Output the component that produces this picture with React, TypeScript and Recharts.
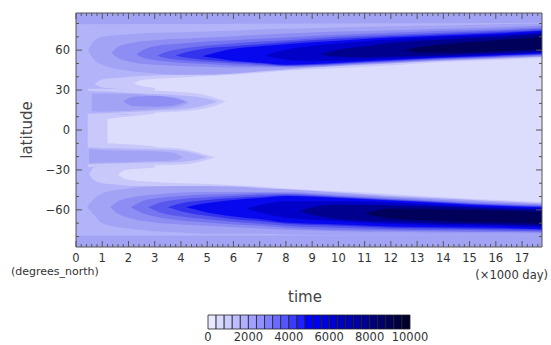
import React from 'react';
import { ComposedChart, Area, XAxis, YAxis, BarChart, Bar } from 'recharts';

// each band: [time (x1000 day), lower latitude, upper latitude]
type Band = [number, number, number][];

const T_MAX = 17.76;
const LAT_MAX = 87.9;

const xLabels = [0, 1, 2, 3, 4, 5, 6, 7, 8, 9, 10, 11, 12, 13, 14, 15, 16, 17];
const yLabels = [-60, -30, 0, 30, 60];
const yMinor = [-80, -70, -60, -50, -40, -30, -20, -10, 0, 10, 20, 30, 40, 50, 60, 70, 80];
const xMinor = Array.from({ length: 89 }, (_, i) => +(i * 0.2).toFixed(1));

// fill shades used inside the plot
const C_IN = '#dcdcfd';
const C_L1 = '#c8c8fb';
const C_BG = '#b3b3f9';
const C_M1 = '#a3a3f6';
const C_M2 = '#8d8df3';
const C_M3 = '#7575f1';
const C_M4 = '#5858ef';
const C_M5 = '#3333ee';
const C_B = '#0808ee';
const C_D1 = '#0000c8';
const C_D2 = '#00008e';
const C_D3 = '#00005a';

const background: Band = [[0, -LAT_MAX, LAT_MAX], [T_MAX, -LAT_MAX, LAT_MAX]];
const polarNorth: Band = [[0, 79.5, LAT_MAX], [T_MAX, 80.5, LAT_MAX]];
const polarSouth: Band = [[0, -LAT_MAX, -79.5], [T_MAX, -LAT_MAX, -79]];

// light interior, outer shade
const rimEq: Band = [[0.45, -13, 11.5], [2.1, -13, 11.5]];
const rimNorth: Band = [[0.7, 34.5, 34.5], [1, 32, 38], [1.5, 31, 39], [2.1, 30.5, 40]];
const rimSouth: Band = [[0.5, -33, -33], [0.7, -38, -28], [1, -40, -27.5], [1.5, -41, -27], [2.1, -42, -27]];
const rimMain: Band = [
  [2, -42, 40], [3, -42, 41], [4, -42.5, 41.5], [5, -43, 42.5], [6, -44, 43.5], [7, -45, 45],
  [8, -46, 46.5], [10, -48, 48.5], [12, -50, 51], [14, -52.5, 53], [16, -54.5, 54.5], [T_MAX, -56, 56],
];
// light interior, inner shade
const inEq: Band = [[1.2, -10, 8.5], [1.7, -10.5, 9.5], [2.5, -11.5, 11], [3.1, -12.5, 12.5]];
const inSouth: Band = [[1.6, -33.5, -33.5], [1.9, -37, -30], [2.5, -38.5, -29], [3.1, -39, -28]];
const inNorth: Band = [[2.2, 35, 35], [2.5, 33, 37.5], [3.1, 31.5, 38.5]];
const inMain: Band = [
  [3, -39, 38.5], [4, -40, 39.5], [5, -40.5, 40.5], [6, -41.5, 41.5], [7, -42.5, 43], [8, -44, 44.5],
  [10, -46, 46.5], [12, -48, 48.5], [14, -50.5, 51], [16, -52.5, 52.5], [T_MAX, -54, 54],
];

const tongueNorthRim: Band = [[0.45, 10.5, 31], [1, 11, 31], [2, 12, 30.5], [3, 13, 29.5], [4, 14, 28.5], [5, 16.5, 26], [5.7, 21.5, 21.5]];
const tongueNorth: Band = [[0, 12, 29.5], [1, 12.5, 29], [2, 13.5, 28], [3, 14.5, 27], [4, 15.5, 26], [4.6, 17, 25], [5, 19, 23.5], [5.4, 21.5, 21.5]];
const tongueNorthMid: Band = [[0.6, 14, 27.5], [1, 13.8, 27.5], [2, 14.5, 27], [3, 15.5, 26], [3.6, 16.5, 25], [4, 18, 23.5], [4.3, 20.5, 20.5]];
const tongueNorthCore: Band = [[1.8, 21.5, 21.5], [2.2, 18, 25], [3, 17.5, 25.5], [3.6, 18, 24.5], [4, 20, 22.5], [4.2, 21, 21]];

const tongueSouthRim: Band = [[0.45, -28, -11.5], [1, -27.5, -12], [2, -27, -12.5], [3, -26.5, -13], [4, -26, -14], [4.7, -24, -17], [5.3, -20.5, -20.5]];
const tongueSouth: Band = [[0, -26, -13], [1, -25.5, -13.5], [2, -25, -14], [3, -24.5, -14.5], [4, -24, -15.5], [4.5, -23, -17.5], [5, -20.5, -20.5]];
const tongueSouthMid: Band = [[0.5, -25, -14.5], [1, -24.5, -15], [2, -24, -15.5], [3, -23.5, -16], [3.7, -23, -17], [4.1, -20.5, -20.5]];

const jetN1: Band = [[0.46, 60, 60], [0.7, 52.5, 67], [1, 49, 70], [2, 44.5, 72], [3, 42.5, 73], [4, 41.5, 73.5], [5, 41.5, 74], [6, 42.5, 74.5], [7, 44, 75.5], [8, 45.5, 76], [10, 48, 77], [12, 50, 78], [14, 52, 78.5], [16, 53.5, 79.5], [T_MAX, 55, 80]];
const jetN2: Band = [[1.35, 58, 58], [1.6, 54, 62.5], [2, 51.5, 65], [3, 49, 67.5], [4, 48, 68.5], [5, 47.5, 69.5], [6, 47, 70.5], [7, 47, 71.5], [8, 47, 72.5], [10, 48.5, 74], [12, 50.5, 75], [14, 52.5, 76], [16, 54, 77], [T_MAX, 55.5, 78.5]];
const jetN3: Band = [[2.3, 57, 57], [2.6, 54, 60.5], [3, 52.5, 63], [4, 50.5, 65], [5, 49.5, 66.5], [6, 48.5, 67.5], [7, 48, 68.5], [8, 47.5, 69.5], [10, 49, 71.5], [12, 51, 73], [14, 53, 74.5], [16, 54.5, 75.5], [T_MAX, 56, 77]];
const jetN4: Band = [[3.1, 56, 56], [3.4, 54, 58.5], [4, 52.5, 61], [5, 51, 63.5], [6, 50, 65], [7, 49, 66.5], [8, 48, 67.5], [10, 49.5, 70], [12, 51.5, 71.5], [14, 53.5, 73], [16, 55, 74.5], [T_MAX, 56.5, 76]];
const jetN5: Band = [[3.8, 56, 56], [4.3, 54, 59], [5, 52.5, 61.5], [6, 51, 63], [7, 50, 64.5], [8, 48.5, 66], [10, 50, 68.5], [12, 52, 70.5], [14, 54, 72], [16, 55.5, 73.5], [T_MAX, 57, 75]];
const jetN6: Band = [[4.8, 55.5, 55.5], [5.3, 54, 58], [6, 52, 61], [7, 50.5, 63], [8, 49, 64.5], [10, 50.5, 67], [12, 52.5, 69.5], [14, 54.5, 71], [16, 56, 72.5], [T_MAX, 57.5, 74.5]];
const jetN7: Band = [[7.2, 56, 56], [7.8, 53.5, 59.5], [8.5, 52, 62], [10, 52, 65], [12, 53.5, 68], [14, 55, 70], [16, 56.5, 71.5], [T_MAX, 58, 73.5]];
const jetN8: Band = [[9.3, 57, 57], [10, 55, 60.5], [11, 54.5, 63], [12, 55, 65.5], [14, 56, 68], [16, 57.5, 70], [T_MAX, 59, 72.5]];
const jetN9: Band = [[12.5, 60, 60], [13.3, 58, 63], [14, 58, 64.5], [16, 59, 67.5], [T_MAX, 60.5, 70]];

const jetS1: Band = [[0.42, -58, -58], [0.7, -64, -51.5], [1, -70, -47.5], [2, -74, -44], [3, -76, -42.5], [4, -77, -42], [5, -78, -42], [6, -78, -42.5], [7, -78, -43.5], [8, -78.5, -44.5], [10, -79, -47], [12, -79, -49.5], [14, -79, -51.5], [16, -79, -53.5], [T_MAX, -79, -55]];
const jetS2: Band = [[1.3, -58, -58], [1.6, -63, -53.5], [2, -66, -51], [3, -69.5, -48.5], [4, -71, -47], [5, -72, -46.5], [6, -73, -46.5], [7, -74, -46.5], [8, -75, -46.5], [10, -76, -48.5], [12, -76.5, -50.5], [14, -77, -52.5], [16, -77, -54.5], [T_MAX, -77.5, -56]];
const jetS3: Band = [[2.1, -58, -58], [2.6, -63, -53], [3, -65, -51.5], [4, -68, -49.5], [5, -69.5, -48.5], [6, -71, -48], [7, -72, -47.5], [8, -73.5, -47.5], [10, -75, -49.5], [12, -75.5, -51.5], [14, -76, -53.5], [16, -76.5, -55.5], [T_MAX, -76.5, -56.5]];
const jetS4: Band = [[2.75, -58, -58], [3.2, -62, -54.5], [4, -65, -52], [5, -67, -50.5], [6, -69, -49.5], [7, -70.5, -48.5], [8, -72, -48], [10, -73.5, -50], [12, -74.5, -52], [14, -75, -54], [16, -75.5, -56], [T_MAX, -76, -57]];
const jetS5: Band = [[3.5, -58, -58], [4, -61, -55], [5, -64.5, -52.5], [6, -67, -51], [7, -68.5, -50], [8, -70.5, -49], [10, -72, -50.5], [12, -73.5, -52.5], [14, -74, -54.5], [16, -74.5, -56.5], [T_MAX, -75, -57.5]];
const jetS6: Band = [[4.2, -58, -58], [4.8, -61, -55.5], [6, -65, -52.5], [7, -67, -51], [8, -69.5, -49.5], [10, -71, -51], [12, -72.5, -53], [14, -73, -55], [16, -73.5, -57], [T_MAX, -74.5, -58]];
const jetS7: Band = [[6.5, -59, -59], [7.2, -63, -55.5], [8, -66, -53.5], [10, -68.5, -53.5], [12, -70.5, -54.5], [14, -71.5, -56.5], [16, -72, -58], [T_MAX, -73, -59]];
const jetS8: Band = [[8.5, -61, -61], [9.3, -65, -57], [10, -67, -56], [12, -69, -56.5], [14, -70.5, -57.5], [16, -71, -59], [T_MAX, -72, -60]];
const jetS9: Band = [[11, -63, -63], [12, -66.5, -59], [14, -68.5, -59.5], [16, -69.5, -60.5], [T_MAX, -70.5, -61.5]];

// colour bar
const cbEdges = [0, 400, 800, 1200, 1600, 2000, 2400, 2800, 3200, 3600, 4000, 4400, 4800, 5200, 5600, 6000, 6400, 6800, 7200, 7600, 8000, 8400, 8800, 9200, 9600, 10000];
const cbColors = [
  '#e8e8ff', '#dadaff', '#ccccff', '#bebeff', '#b0b0ff', '#a0a0ff', '#9090ff', '#7e7eff', '#6a6aff',
  '#5555ff', '#3c3cff', '#2020ff', '#0000ff', '#0000f0', '#0000e0', '#0000d0', '#0000c0', '#0000b0',
  '#0000a0', '#000090', '#00007c', '#000068', '#000054', '#000040', '#00002c',
];
const cbTicks = [0, 2000, 4000, 6000, 8000, 10000];

const layers: { band: Band; fill: string }[] = [
  { band: background, fill: C_BG },
  { band: polarNorth, fill: C_M1 },
  { band: polarSouth, fill: C_M1 },
  { band: rimEq, fill: C_L1 },
  { band: rimNorth, fill: C_L1 },
  { band: rimSouth, fill: C_L1 },
  { band: rimMain, fill: C_L1 },
  { band: inEq, fill: C_IN },
  { band: inSouth, fill: C_IN },
  { band: inNorth, fill: C_IN },
  { band: inMain, fill: C_IN },
  { band: tongueNorthRim, fill: C_L1 },
  { band: tongueNorth, fill: C_BG },
  { band: tongueNorthMid, fill: C_M1 },
  { band: tongueNorthCore, fill: C_M2 },
  { band: tongueSouthRim, fill: C_L1 },
  { band: tongueSouth, fill: C_BG },
  { band: tongueSouthMid, fill: C_M1 },
  { band: jetN1, fill: C_M1 }, { band: jetS1, fill: C_M1 },
  { band: jetN2, fill: C_M2 }, { band: jetS2, fill: C_M2 },
  { band: jetN3, fill: C_M3 }, { band: jetS3, fill: C_M3 },
  { band: jetN4, fill: C_M4 }, { band: jetS4, fill: C_M4 },
  { band: jetN5, fill: C_M5 }, { band: jetS5, fill: C_M5 },
  { band: jetN6, fill: C_B }, { band: jetS6, fill: C_B },
  { band: jetN7, fill: C_D1 }, { band: jetS7, fill: C_D1 },
  { band: jetN8, fill: C_D2 }, { band: jetS8, fill: C_D2 },
  { band: jetN9, fill: C_D3 }, { band: jetS9, fill: C_D3 },
];

const toRows = (band: Band) => band.map(([t, lo, hi]) => ({ t, r: [lo, hi] }));

const FONT = 'DejaVu Sans';
const AXIS = '#555';

function Tick(props: any) {
  const { x, y, payload, side, gap = 0, labels } = props;
  const v = payload.value;
  const major = labels.some((m: number) => Math.abs(m - v) < 1e-6);
  const len = major ? 6 : 3;
  const txt = v < 0 ? `\u2212${-v}` : `${v}`;
  const textStyle = { fontFamily: FONT, fontSize: 11.5, fill: '#333' };
  if (side === 'bottom') {
    const ay = y - gap;
    return (
      <g>
        <line x1={x} x2={x} y1={ay} y2={ay - len} stroke={AXIS} />
        {major && <text x={x} y={y} dy="0.72em" textAnchor="middle" style={textStyle}>{txt}</text>}
      </g>
    );
  }
  if (side === 'top') {
    return <line x1={x} x2={x} y1={y} y2={y + len} stroke={AXIS} />;
  }
  if (side === 'left') {
    const ax = x + gap;
    return (
      <g>
        <line x1={ax} x2={ax + len} y1={y} y2={y} stroke={AXIS} />
        {major && <text x={x} y={y} dy="0.36em" textAnchor="end" style={textStyle}>{txt}</text>}
      </g>
    );
  }
  return <line x1={x} x2={x - len} y1={y} y2={y} stroke={AXIS} />;
}

export default function App() {
  const cbRow: Record<string, any> = { name: 'cb' };
  cbColors.forEach((_, i) => { cbRow[`c${i}`] = cbEdges[i + 1] - cbEdges[i]; });

  return (
    <div style={{ position: 'fixed', left: 0, top: 0, width: 551, height: 345, background: '#fff', overflow: 'hidden' }}>
      <div style={{ position: 'absolute', left: 0, top: 0 }}>
        <ComposedChart width={551} height={345} margin={{ top: 12, right: 8, bottom: 68, left: 36 }}>
          <XAxis
            xAxisId="b" dataKey="t" type="number" domain={[0, T_MAX]} allowDataOverflow
            ticks={xMinor} interval={0} tickSize={0} tickMargin={7} height={30}
            axisLine={{ stroke: AXIS }} tick={<Tick side="bottom" gap={7} labels={xLabels} />}
          />
          <XAxis
            xAxisId="t" orientation="top" dataKey="t" type="number" domain={[0, T_MAX]} allowDataOverflow
            ticks={xMinor} interval={0} tickSize={0} tickMargin={0} height={1}
            axisLine={{ stroke: AXIS }} tick={<Tick side="top" labels={xLabels} />}
          />
          <YAxis
            yAxisId="l" type="number" domain={[-LAT_MAX, LAT_MAX]} allowDataOverflow
            ticks={yMinor} interval={0} tickSize={0} tickMargin={6} width={40}
            axisLine={{ stroke: AXIS }} tick={<Tick side="left" gap={6} labels={yLabels} />}
          />
          <YAxis
            yAxisId="r" orientation="right" type="number" domain={[-LAT_MAX, LAT_MAX]} allowDataOverflow
            ticks={yMinor} interval={0} tickSize={0} tickMargin={0} width={1}
            axisLine={{ stroke: AXIS }} tick={<Tick side="right" labels={yLabels} />}
          />
          {layers.map((l, i) => (
            <Area
              key={i}
              xAxisId="b"
              yAxisId="l"
              data={toRows(l.band)}
              dataKey="r"
              type="monotone"
              stroke="none"
              fill={l.fill}
              fillOpacity={1}
              dot={false}
              activeDot={false}
              isAnimationActive={false}
            />
          ))}
        </ComposedChart>
      </div>

      <div style={{ position: 'absolute', left: 0, top: 0 }}>
        <BarChart
          layout="vertical" width={551} height={345} data={[cbRow]}
          margin={{ top: 315, right: 141, bottom: 0, left: 208 }} barCategoryGap={0}
        >
          <XAxis
            type="number" domain={[0, 10000]} ticks={cbTicks} interval={0} height={16}
            axisLine={false} tickLine={false} tickSize={0} tickMargin={4}
            tick={{ fontFamily: FONT, fontSize: 11.5, fill: '#333' }}
          />
          <YAxis type="category" dataKey="name" hide />
          {cbColors.map((c, i) => (
            <Bar key={i} dataKey={`c${i}`} stackId="cb" fill={c} stroke="#222" strokeWidth={0.8} isAnimationActive={false} />
          ))}
        </BarChart>
      </div>

      <svg width={551} height={345} style={{ position: 'absolute', left: 0, top: 0, pointerEvents: 'none' }}>
        <text transform="translate(32,130) rotate(-90)" textAnchor="middle" style={{ fontFamily: FONT, fontSize: 15, fill: '#444' }}>latitude</text>
        <text x={305} y={302} textAnchor="middle" style={{ fontFamily: FONT, fontSize: 15, fill: '#444' }}>time</text>
        <text x={11} y={275} style={{ fontFamily: FONT, fontSize: 11, fill: '#333' }}>(degrees_north)</text>
        <text x={548} y={279} textAnchor="end" style={{ fontFamily: FONT, fontSize: 11.5, fill: '#333' }}>(×1000 day)</text>
      </svg>
    </div>
  );
}
